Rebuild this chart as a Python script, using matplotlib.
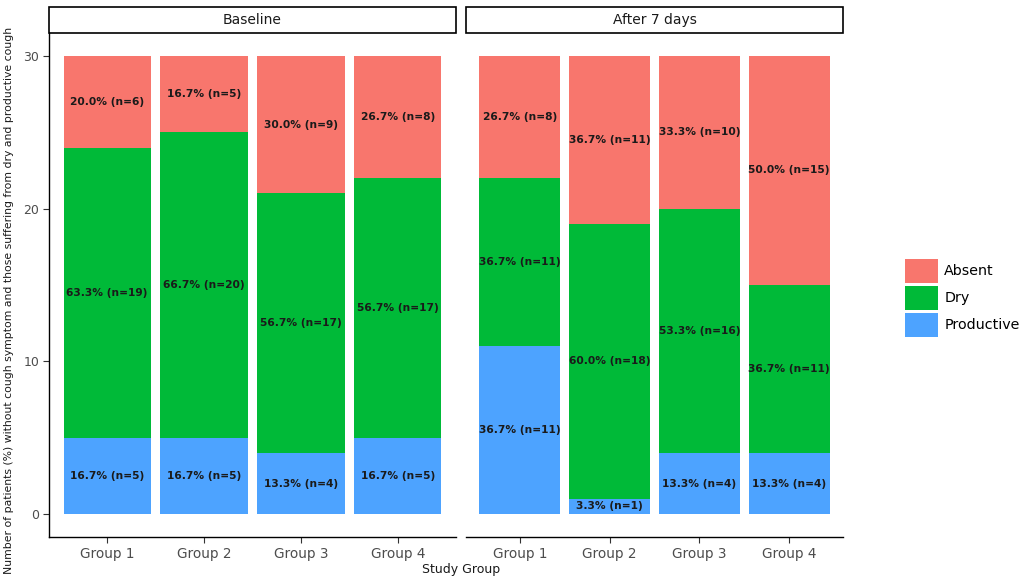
import numpy as np
import matplotlib
matplotlib.use("Agg")
import matplotlib.pyplot as plt
from matplotlib.patches import Rectangle, Patch

plt.rcParams['font.family'] = ['DejaVu Sans']

groups = ['Group 1', 'Group 2', 'Group 3', 'Group 4']
panels = ['Baseline', 'After 7 days']
total = 30

# counts per panel: productive, dry, absent
productive = {'Baseline': [5, 5, 4, 5], 'After 7 days': [11, 1, 4, 4]}
dry = {'Baseline': [19, 20, 17, 17], 'After 7 days': [11, 18, 16, 11]}
absent = {'Baseline': [6, 5, 9, 8], 'After 7 days': [8, 11, 10, 15]}

categories = ['Productive', 'Dry', 'Absent']
colors = {'Absent': '#F8766D', 'Dry': '#00BA38', 'Productive': '#4DA3FF'}

W, H = 1024, 579
fig = plt.figure(figsize=(W / 100, H / 100), dpi=100)

# panel boxes in pixel coords: left, right, top, bottom
boxes = [(49, 456, 33, 537), (466, 843, 33, 537)]


def px_axes(l, r, t, b):
    return fig.add_axes([l / W, 1 - b / H, (r - l) / W, (b - t) / H])


for i, (panel, (l, r, t, b)) in enumerate(zip(panels, boxes)):
    ax = px_axes(l, r, t, b)
    x = np.arange(1, len(groups) + 1)
    bottom = np.zeros(len(groups))
    for cat in categories:
        vals = np.array({'Productive': productive, 'Dry': dry, 'Absent': absent}[cat][panel], dtype=float)
        ax.bar(x, vals, width=0.9, bottom=bottom, color=colors[cat], linewidth=0)
        for xi, v, b0 in zip(x, vals, bottom):
            ax.text(xi, b0 + v / 2, f"{v / total * 100:.1f}% (n={int(v)})",
                    ha='center', va='center', fontsize=7.7, fontweight='bold',
                    color='#1a1a1a')
        bottom += vals
    ax.set_xlim(0.4, 4.6)
    ax.set_ylim(-1.5, 31.5)
    ax.set_xticks(x)
    ax.set_xticklabels(groups, fontsize=9.8, color='#4d4d4d')
    ax.tick_params(axis='x', length=4, width=0.8, color='#333333', pad=3)
    for s in ['top', 'right']:
        ax.spines[s].set_visible(False)
    ax.spines['bottom'].set_linewidth(1.0)
    if i == 0:
        ax.set_yticks([0, 10, 20, 30])
        ax.set_yticklabels(['0', '10', '20', '30'], fontsize=9, color='#4d4d4d')
        ax.tick_params(axis='y', length=4, width=0.8, color='#333333', pad=3)
        ax.spines['left'].set_linewidth(1.0)
    else:
        ax.set_yticks([])
        ax.spines['left'].set_visible(False)
    # facet strip
    strip_h = 26 / (b - t)
    ax.add_patch(Rectangle((0, 1.0), 1, strip_h, transform=ax.transAxes,
                           facecolor='white', edgecolor='black', linewidth=1.2,
                           clip_on=False))
    ax.text(0.5, 1 + strip_h / 2, panel, transform=ax.transAxes,
            ha='center', va='center', fontsize=10, color='#1a1a1a')

fig.text(9 / W, 1 - 300 / H,
         'Number of patients (%) without cough symptom and those suffering from dry and productive cough',
         rotation=90, ha='center', va='center', fontsize=7.8, color='#1a1a1a')
fig.text(461 / W, 1 - 570 / H, 'Study Group', ha='center', va='center',
         fontsize=9, color='#1a1a1a')

handles = [Patch(facecolor=colors[c], edgecolor='none') for c in ['Absent', 'Dry', 'Productive']]
fig.legend(handles, ['Absent', 'Dry', 'Productive'], loc='center left',
           bbox_to_anchor=(905 / W, 1 - 298 / H), frameon=False,
           fontsize=10.3, handlelength=2.3, handleheight=2.3,
           handletextpad=0.45, labelspacing=0.15, borderaxespad=0, borderpad=0)

fig.savefig('out.png', dpi=100)
